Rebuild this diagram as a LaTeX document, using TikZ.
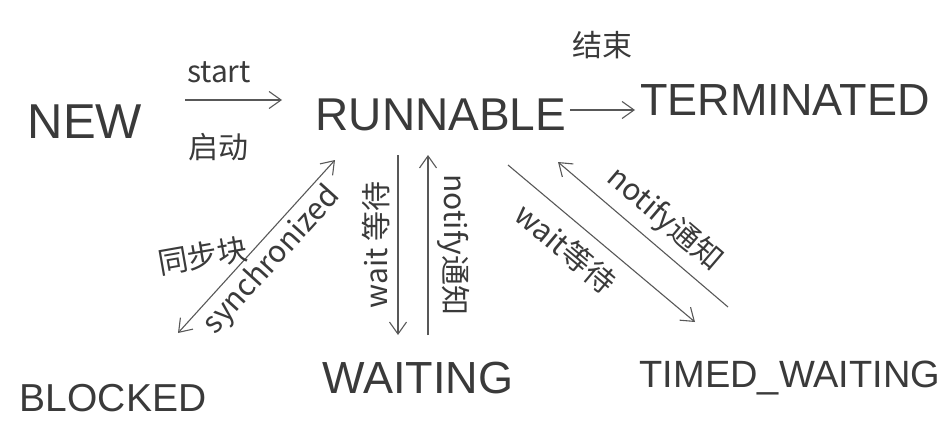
\documentclass[tikz,border=0pt]{standalone}
\usepackage{fontspec}
\setmainfont{Liberation Sans}
\newfontfamily\cjk{Noto Sans CJK SC}
\usetikzlibrary{arrows.meta}
\definecolor{ink}{HTML}{3A3A3A}
\begin{document}
\begin{tikzpicture}[x=1pt,y=-1pt,>={Straight Barb[length=12pt,width=17pt]},
  state/.style={inner sep=0pt,text=ink,font=\fontsize{#1}{#1}\selectfont},
  lbl/.style={inner sep=5pt,text=ink,font=\cjk\fontsize{30}{32}\selectfont},
  arr/.style={draw=ink!85,line width=1.1pt}]
  \useasboundingbox (0,0) rectangle (950,434);
  % states
  \node[state=49] (new) at (85,122) {NEW};
  \node[state=46] (run) at (441,115) {RUNNABLE};
  \node[state=45] (term) at (785,100) {TERMINATED};
  \node[state=39] (blk) at (113,398) {BLOCKED};
  \node[state=45] (wait) at (418,378) {WAITING};
  \node[state=38] (timed) at (790,378) {TIMED\_WAITING};
  % top row
  \draw[arr,->] ([xshift=100pt,yshift=22pt]new.center) -- ([xshift=-159pt,yshift=15pt]run.center)
    node[lbl,pos=0.35,above,yshift=12pt] {start} node[lbl,pos=0.35,below,yshift=-28pt] {启动};
  \draw[arr,->] ([xshift=129pt,yshift=5pt]run.center) -- ([xshift=-150pt,yshift=-10pt]term.center)
    node[lbl,midway,above,yshift=46pt] {结束};
  % blocked
  \draw[arr,<->] ([xshift=65pt,yshift=65pt]blk.center) -- ([xshift=-106pt,yshift=-45pt]run.center)
    node[lbl,pos=0.5,sloped,below] {synchronized}
    node[lbl,pos=0.5,anchor=east,rotate=10,xshift=-4pt] {同步块};
  % waiting
  \draw[arr,->] ([xshift=-43pt,yshift=-40pt]run.center) -- ([xshift=-20pt,yshift=43pt]wait.center)
    node[lbl,midway,rotate=90,anchor=south,inner sep=8pt] {wait 等待};
  \draw[arr,->] ([xshift=10pt,yshift=43pt]wait.center) -- ([xshift=-13pt,yshift=-40pt]run.center)
    node[lbl,midway,rotate=-90,anchor=south,inner sep=9pt] {notify通知};
  % timed waiting
  \draw[arr,->] ([xshift=67pt,yshift=-50pt]run.center) -- ([xshift=-95pt,yshift=56pt]timed.center)
    node[lbl,pos=0.4,sloped,below,inner sep=12pt] {wait等待};
  \draw[arr,->] ([xshift=-62pt,yshift=71pt]timed.center) -- ([xshift=117pt,yshift=-47pt]run.center)
    node[lbl,pos=0.47,sloped,above,inner sep=9pt] {notify通知};
\end{tikzpicture}
\end{document}
